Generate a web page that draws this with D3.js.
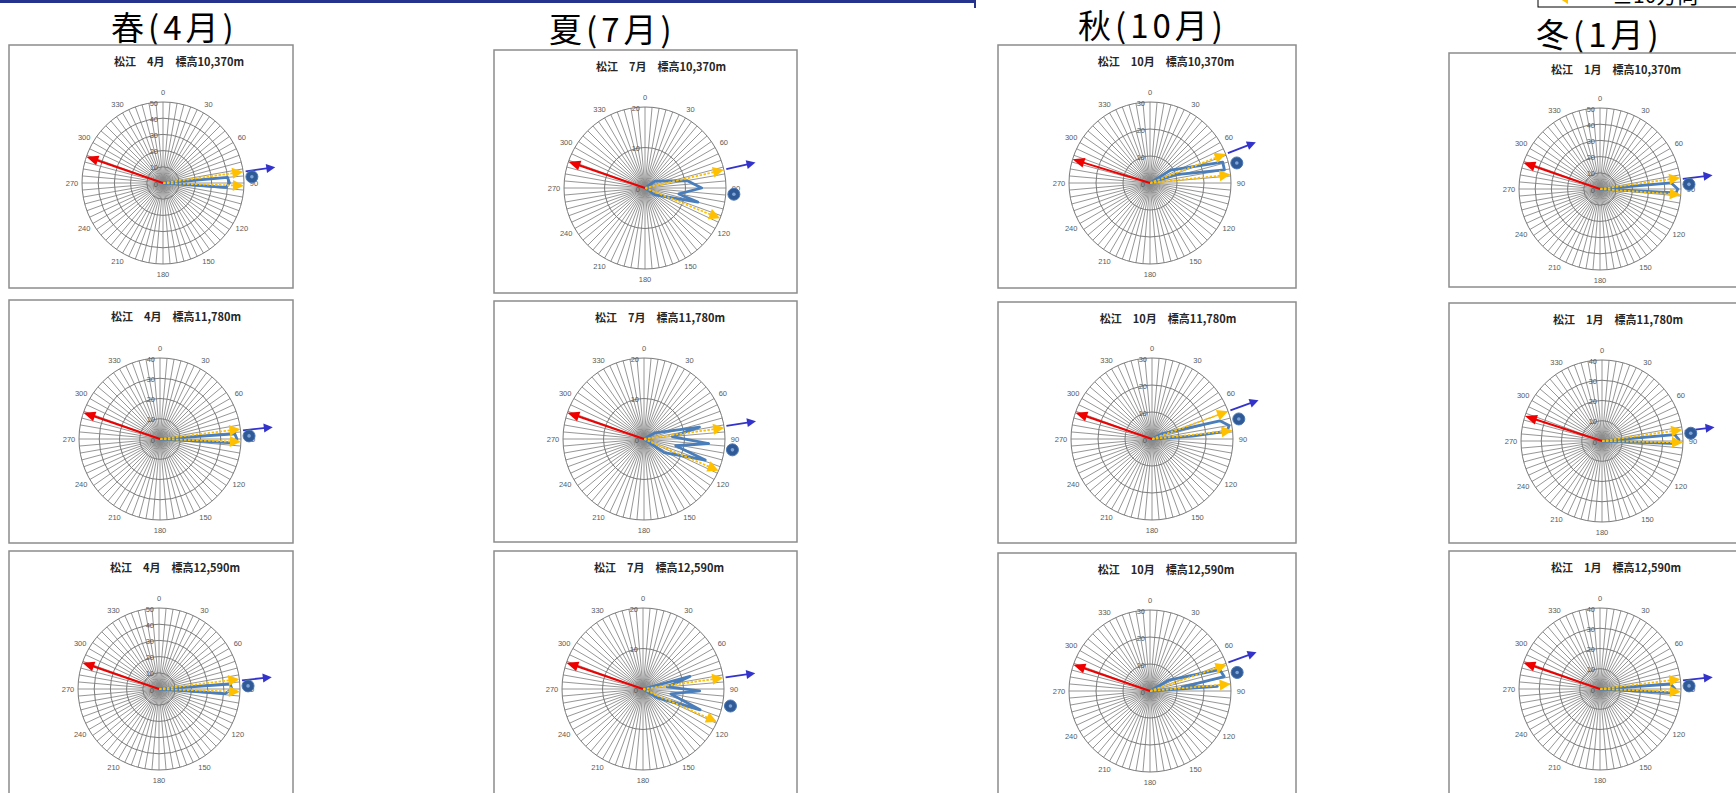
<!DOCTYPE html>
<html><head><meta charset="utf-8">
<script src="https://cdn.jsdelivr.net/npm/d3@7"></script>
<style>body{margin:0;background:#fff;overflow:hidden}svg{display:block}</style>
</head><body>
<svg id="chart" width="1736" height="793"></svg>
<script>
// ---------- data ----------
const seasonLabels = ["春(4月)", "夏(7月)", "秋(10月)", "冬(1月)"];
const monthLabels = ["4月", "7月", "10月", "1月"];
const altitudeLabels = ["10,370m", "11,780m", "12,590m"];
const angleTicks = [0, 30, 60, 90, 120, 150, 180, 210, 240, 270, 300, 330];
const legendLabel = "±10方向";
// radial axis maximum, per season, per altitude
const radialMax = [[50, 40, 50], [20, 20, 20], [30, 30, 30], [50, 40, 40]];
// red arrow direction (deg)
const redDir = [[289, 289, 289], [289, 289, 289], [287, 289, 289], [289, 288, 289]];
// yellow ±direction arrows (deg)
const yellowDirs = [
  [[82, 92], [83, 92], [83, 92]],
  [[77, 112], [82, 113], [82, 114]],
  [[69, 84], [70, 84], [71, 85]],
  [[82, 94], [82, 91], [83, 92]]
];
// blue marker direction (deg)
const dotDir = [[86, 88, 88], [94, 97, 101], [77, 77, 78], [87, 85, 88]];
// blue outside arrow direction (deg)
const arrowDir = [[82, 84, 84], [77, 81, 82], [69, 70, 70], [83, 83, 84]];
// blue series: [direction deg, value]
const blueSeries = [
  [
    [[85, 40], [90, 41], [94, 39]],
    [[86, 37], [90, 38], [93, 36]],
    [[86, 44], [90, 45], [94, 41]]
  ],
  [
    [[55, 3], [80, 10.5], [90, 14], [100, 8.5], [105, 13.5], [125, 3]],
    [[60, 3], [78, 14], [85, 7], [94, 16], [102, 8], [109, 16], [124, 6]],
    [[75, 12], [85, 6], [92, 14], [100, 7], [110, 15], [122, 4]]
  ],
  [
    [[58, 9], [74, 28], [80, 28], [72, 10]],
    [[62, 4], [75, 26], [80, 29], [84, 28], [86, 15]],
    [[60, 8], [73, 27], [79, 28], [83, 12], [86, 25]]
  ],
  [
    [[85, 44], [90, 48], [93, 47]],
    [[85, 36], [89, 38], [92, 37]],
    [[86, 35], [90, 37], [93, 36]]
  ]
];

// ---------- layout ----------
const R = 81;
const colBoxX = [9, 494, 998, 1449];
const colBoxW = [284, 303, 298, 320];
const boxTop = [[45, 300, 551], [50, 301, 551], [45, 302, 553], [53, 303, 551]];
const boxH = [[243, 243, 260], [243, 241, 260], [243, 241, 260], [234, 240, 260]];
const centerX = [[163, 160, 159], [645, 644, 643], [1150, 1152, 1150], [1600, 1602, 1600]];
const centerY = [[183, 439, 689], [188, 439, 689], [183, 439, 691], [189, 441, 689]];
const seasonX = [111, 549, 1078, 1536];
const seasonY = [40, 42, 38, 47];

const svg = d3.select("#chart");
const rad = d => d * Math.PI / 180;

// top blue rule
svg.append("rect").attr("x", 0).attr("y", 0).attr("width", 976).attr("height", 3).attr("fill", "#25338c");
svg.append("rect").attr("x", 974).attr("y", 0).attr("width", 2).attr("height", 8).attr("fill", "#25338c");

// legend fragment top right
const lg = svg.append("g");
lg.append("rect").attr("x", 1538).attr("y", -20).attr("width", 220).attr("height", 27)
  .attr("fill", "#fff").attr("stroke", "#000").attr("stroke-width", 1);
lg.append("polygon").attr("points", "1557,-3 1568,-10 1568,4").attr("fill", "#ffc000");
lg.append("text").attr("x", 1612).attr("y", 3).attr("font-family", "'Noto Sans CJK JP'")
  .attr("font-size", 21).attr("fill", "#000").text(legendLabel);

// season titles
seasonLabels.forEach((t, i) => {
  svg.append("text").attr("x", seasonX[i]).attr("y", seasonY[i])
    .attr("font-family", "'Noto Sans CJK JP'").attr("font-size", 33)
    .attr("letter-spacing", 4).attr("fill", "#000").text(t);
});

function arrow(g, angle, r0, r1, color, width, headLen, headW, dash) {
  const a = g.append("g").attr("transform", `rotate(${angle})`);
  const l = a.append("line").attr("x1", 0).attr("y1", -r0).attr("x2", 0).attr("y2", -(r1 - headLen * 0.8))
    .attr("stroke", color).attr("stroke-width", width);
  if (dash) l.attr("stroke-dasharray", dash);
  a.append("polygon")
    .attr("points", `0,${-r1} ${-headW / 2},${-(r1 - headLen)} ${headW / 2},${-(r1 - headLen)}`)
    .attr("fill", color);
}

for (let s = 0; s < 4; s++) {
  for (let a = 0; a < 3; a++) {
    const top = boxTop[s][a], cx = centerX[s][a], cy = centerY[s][a];
    const max = radialMax[s][a];
    // panel box
    svg.append("rect").attr("x", colBoxX[s]).attr("y", top).attr("width", colBoxW[s]).attr("height", boxH[s][a])
      .attr("fill", "#fff").attr("stroke", "#8c8c8c").attr("stroke-width", 1.5);
    // title
    svg.append("text").attr("x", cx + 16).attr("y", top + 16).attr("text-anchor", "middle")
      .attr("dominant-baseline", "central").attr("font-family", "'Noto Sans CJK JP'")
      .attr("font-weight", "bold").attr("font-size", 11).attr("fill", "#262626")
      .text(`松江　${monthLabels[s]}　標高${altitudeLabels[a]}`);

    const g = svg.append("g").attr("transform", `translate(${cx},${cy})`);
    const r = d3.scaleLinear().domain([0, max]).range([0, R]);
    const rTicks = d3.range(0, max + 1, 10);

    // spokes
    g.selectAll("line.spoke").data(d3.range(0, 360, 5)).join("line")
      .attr("x1", 0).attr("y1", 0)
      .attr("x2", d => R * Math.sin(rad(d))).attr("y2", d => -R * Math.cos(rad(d)))
      .attr("stroke", "#8a8a8a").attr("stroke-width", 0.9);
    // rings
    g.selectAll("circle.ring").data(rTicks.filter(v => v > 0)).join("circle")
      .attr("r", d => r(d)).attr("fill", "none").attr("stroke", "#7a7a7a").attr("stroke-width", 1);
    // angle labels
    g.selectAll("text.ang").data(angleTicks).join("text")
      .attr("x", d => (R + 10) * Math.sin(rad(d))).attr("y", d => -(R + 10) * Math.cos(rad(d)))
      .attr("text-anchor", "middle").attr("dominant-baseline", "central")
      .attr("font-family", "'Liberation Sans'").attr("font-size", 7.5).attr("fill", "#595959")
      .text(d => d);
    // radial labels
    g.selectAll("text.rad").data(rTicks).join("text")
      .attr("x", -5).attr("y", d => -r(d) + 1)
      .attr("text-anchor", "end").attr("dominant-baseline", "central")
      .attr("font-family", "'Liberation Sans'").attr("font-size", 7.5).attr("fill", "#595959")
      .text(d => d);

    // blue series
    const pts = blueSeries[s][a];
    const path = [[pts[0][0], 0], ...pts, [pts[pts.length - 1][0], 0]];
    const line = d3.lineRadial().angle(d => rad(d[0])).radius(d => r(d[1]));
    g.append("path").attr("d", line(path)).attr("fill", "none").attr("stroke", "#4a7ebb")
      .attr("stroke-width", 2.8).attr("stroke-linejoin", "round").attr("stroke-linecap", "round");

    // yellow arrows
    yellowDirs[s][a].forEach(d => arrow(g, d, 0, r(max), "#ffc000", 1.8, 11, 11, "2.5,1.5"));
    // red arrow
    arrow(g, redDir[s][a], 0, r(max), "#ee0000", 2, 12, 10, null);
    // blue outside arrow
    arrow(g, arrowDir[s][a], R * 1.03, R * 1.4, "#3333cc", 1.8, 9, 9, null);
    // blue dot
    const dd = rad(dotDir[s][a]);
    const dx = R * 1.1 * Math.sin(dd), dy = -R * 1.1 * Math.cos(dd);
    g.append("circle").attr("cx", dx).attr("cy", dy).attr("r", 6)
      .attr("fill", "#2f5a96").attr("stroke", "#4a78b8").attr("stroke-width", 1);
    g.append("circle").attr("cx", dx).attr("cy", dy).attr("r", 1.8).attr("fill", "#7ea4d8");
  }
}
</script>
</body></html>
